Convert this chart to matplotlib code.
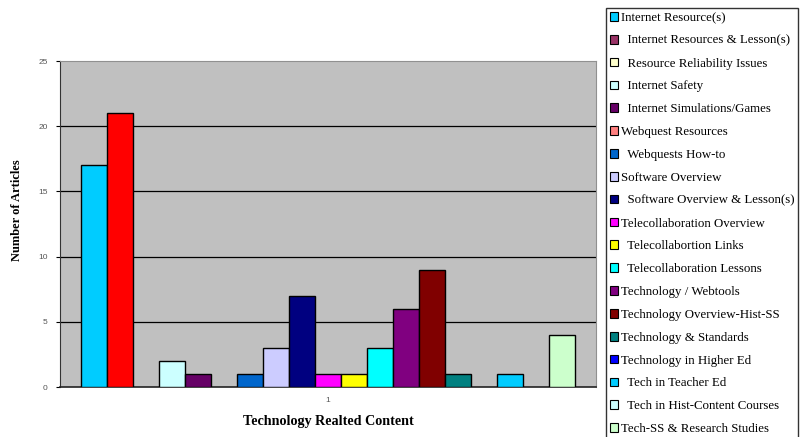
import numpy as np
import matplotlib.pyplot as plt
from matplotlib.patches import Patch

# Excel-style clustered bar chart: one category, 19 series
labels = ['Internet Resource(s)', '  Internet Resources & Lesson(s)',
          '  Resource Reliability Issues', '  Internet Safety',
          '  Internet Simulations/Games', 'Webquest Resources',
          '  Webquests How-to', 'Software Overview',
          '  Software Overview & Lesson(s)', 'Telecollaboration Overview',
          '  Telecollabortion Links', '  Telecollaboration Lessons',
          'Technology / Webtools', 'Technology Overview-Hist-SS',
          'Technology & Standards', 'Technology in Higher Ed',
          '  Tech in Teacher Ed', '  Tech in Hist-Content Courses',
          'Tech-SS & Research Studies']
values = [17, 21, 0, 2, 1, 0, 1, 3, 7, 1, 1, 3, 6, 9, 1, 0, 1, 0, 4]
bar_colors = ['#00CCFF', '#FF0000', '#FFFFCC', '#CCFFFF', '#660066', '#FF8080',
              '#0066CC', '#CCCCFF', '#000080', '#FF00FF', '#FFFF00', '#00FFFF',
              '#800080', '#800000', '#008080', '#0000FF', '#00CCFF', '#CCFFFF',
              '#CCFFCC']
legend_colors = ['#00CCFF', '#993366', '#FFFFCC', '#CCFFFF', '#660066', '#FF8080',
                 '#0066CC', '#CCCCFF', '#000080', '#FF00FF', '#FFFF00', '#00FFFF',
                 '#800080', '#800000', '#008080', '#0000FF', '#00CCFF', '#CCFFFF',
                 '#CCFFCC']
yticks = [0, 5, 10, 15, 20, 25]

W, H = 801, 437
fig = plt.figure(figsize=(W / 100, H / 100), dpi=100)
ax = fig.add_axes([60 / W, 1 - 387 / H, 536 / W, 326 / H])
ax.set_facecolor('#C0C0C0')

n = len(values)
bw = 26 / 536
xs = (np.arange(n) - (n - 1) / 2) * bw
for x, v, c in zip(xs, values, bar_colors):
    if v > 0:
        ax.bar(x, v, width=bw, color=c, edgecolor='black', linewidth=1, zorder=3)

ax.set_xlim(-0.5, 0.5)
ax.set_ylim(0, 25)
ax.set_yticks(yticks)
ax.set_yticklabels([str(t) for t in yticks], fontsize=6, color='#555555',
                   family='Liberation Sans')
ax.set_xticks([0])
ax.set_xticklabels(['1'], fontsize=6, color='#555555', family='Liberation Sans')
ax.tick_params(axis='y', length=3, width=0.8, pad=6)
ax.tick_params(axis='x', length=0, pad=7)
for t in yticks[1:-1]:
    ax.axhline(t, color='black', linewidth=0.9, zorder=1)

ax.spines['left'].set_color('#333333')
ax.spines['bottom'].set_color('#222222')
ax.spines['bottom'].set_linewidth(1.2)
ax.spines['top'].set_color('#909090')
ax.spines['right'].set_color('#909090')

ax.set_ylabel('Number of Articles', family='Liberation Serif', fontweight='bold',
              fontsize=9, va='center')
ax.yaxis.set_label_coords(-43 / 536, (387 - 210) / 326)
ax.set_xlabel('Technology Realted Content', family='Liberation Serif',
              fontweight='bold', fontsize=10.2)
ax.xaxis.set_label_coords(0.5, -(421 - 387) / 326)
ax.xaxis.label.set_va('center')

handles = [Patch(facecolor=c, edgecolor='black', linewidth=0.8) for c in legend_colors]
leg = fig.legend(handles, labels, loc='upper left',
                 bbox_to_anchor=(606 / W, 1 - 8 / H),
                 prop={'family': 'Liberation Serif', 'size': 9.3},
                 frameon=True, fancybox=False, edgecolor='black',
                 handlelength=0.66, handleheight=0.66, handletextpad=0.2,
                 labelspacing=0.84, borderpad=0.3, borderaxespad=0)
leg.get_frame().set_linewidth(1)

fig.savefig('out.png', dpi=100)
